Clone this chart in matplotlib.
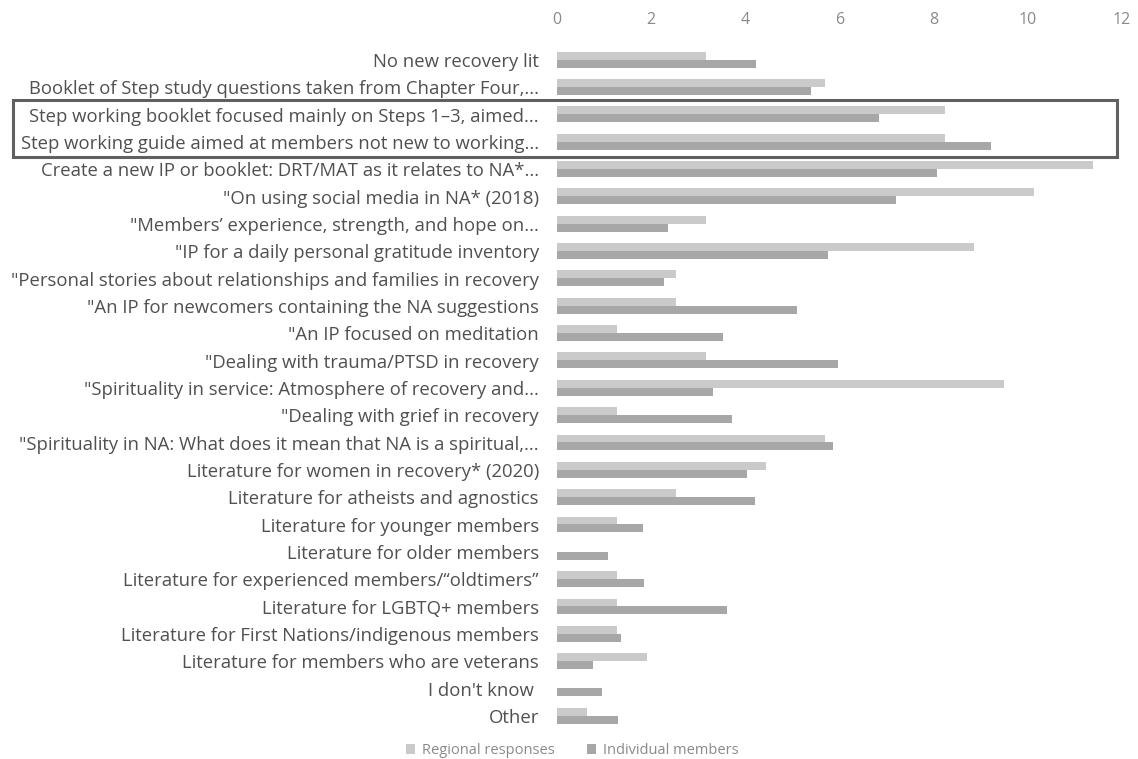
import matplotlib
matplotlib.use("Agg")
import matplotlib.pyplot as plt
import matplotlib.transforms as mtransforms
from matplotlib.patches import Rectangle
import numpy as np

# categories, top to bottom
temas = [
    "No new recovery lit",
    "Booklet of Step study questions taken from Chapter Four,...",
    "Step working booklet focused mainly on Steps 1\u20133, aimed...",
    "Step working guide aimed at members not new to working...",
    "Create a new IP or booklet: DRT/MAT as it relates to NA*...",
    "\"On using social media in NA* (2018)",
    "\"Members\u2019 experience, strength, and hope on...",
    "\"IP for a daily personal gratitude inventory",
    "\"Personal stories about relationships and families in recovery",
    "\"An IP for newcomers containing the NA suggestions",
    "\"An IP focused on meditation",
    "\"Dealing with trauma/PTSD in recovery",
    "\"Spirituality in service: Atmosphere of recovery and...",
    "\"Dealing with grief in recovery",
    "\"Spirituality in NA: What does it mean that NA is a spiritual,...",
    "Literature for women in recovery* (2020)",
    "Literature for atheists and agnostics",
    "Literature for younger members",
    "Literature for older members",
    "Literature for experienced members/\u201coldtimers\u201d",
    "Literature for LGBTQ+ members",
    "Literature for First Nations/indigenous members",
    "Literature for members who are veterans",
    "I don't know ",
    "Other",
]

regionales = [3.16, 5.70, 8.23, 8.23, 11.39, 10.13, 3.16, 8.86, 2.53, 2.53,
              1.27, 3.16, 9.49, 1.27, 5.70, 4.43, 2.53, 1.27, 0.0, 1.27,
              1.27, 1.27, 1.90, 0.0, 0.63]
individuales = [4.22, 5.39, 6.84, 9.21, 8.06, 7.19, 2.36, 5.76, 2.28, 5.10,
                3.52, 5.97, 3.32, 3.71, 5.87, 4.03, 4.20, 1.83, 1.09, 1.85,
                3.60, 1.36, 0.76, 0.95, 1.30]

ticks_x = [0, 2, 4, 6, 8, 10, 12]

fuente = ["Open Sans", "DejaVu Sans"]
plt.rcParams["font.family"] = fuente

fig = plt.figure(figsize=(11.38, 7.59), dpi=100)
ax = fig.add_axes([0.4895, 0.0385, 0.4965, 0.9005])

y = np.arange(len(temas))
alto = 0.29
ax.barh(y - 0.155, regionales, height=alto, color="#cacaca", label="Regional responses")
ax.barh(y + 0.135, individuales, height=alto, color="#a7a7a7", label="Individual members")

ax.set_xlim(0, 12)
ax.set_ylim(len(temas) - 0.5, -0.5)
ax.set_xticks(ticks_x)
ax.set_xticklabels([str(t) for t in ticks_x])
ax.xaxis.tick_top()
ax.tick_params(axis="x", length=0, pad=13, labelsize=11.5, labelcolor="#8a8a8a")
ax.set_yticks(y)
ax.set_yticklabels(temas)
ax.tick_params(axis="y", length=0, pad=13, labelsize=13.3, labelcolor="#505050")
for s in ax.spines.values():
    s.set_visible(False)

# recuadro sobre las dos filas de Step working
trans = mtransforms.blended_transform_factory(fig.transFigure, ax.transData)
caja = Rectangle((13 / 1138, 1.48), (1117 - 13) / 1138, 2.08, transform=trans,
                 fill=False, edgecolor="#606060", linewidth=2.2, clip_on=False)
fig.add_artist(caja)

fig.legend(loc="lower center", bbox_to_anchor=(0.503, -0.016), ncol=2, frameon=False,
           fontsize=10.5, labelcolor="#8a8a8a", handlelength=0.6, handleheight=0.6,
           columnspacing=2.2, handletextpad=0.5)

plt.savefig("out.png", dpi=100)
